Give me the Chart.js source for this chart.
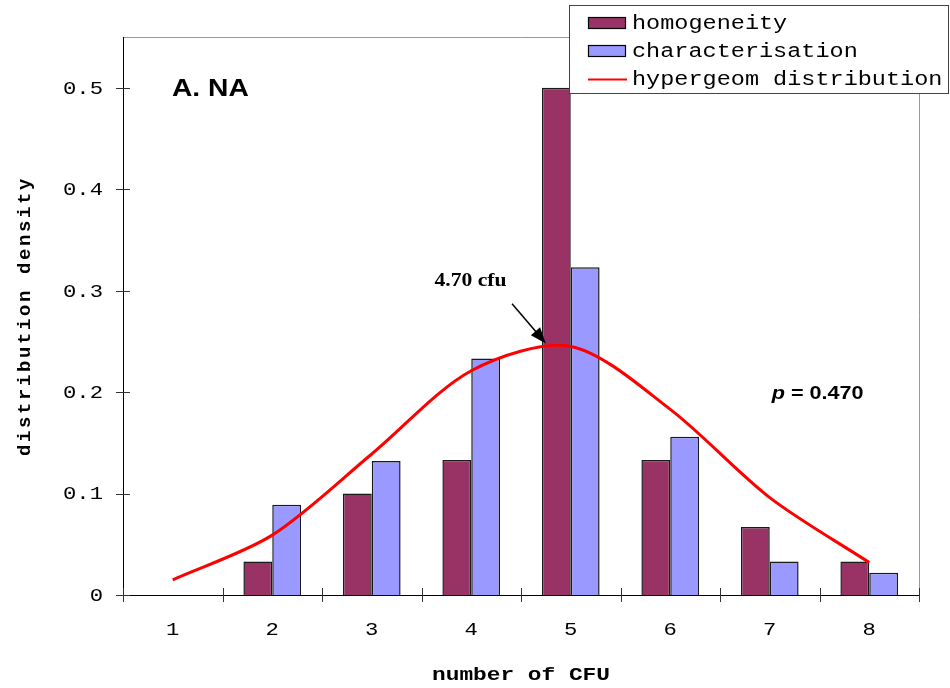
<!DOCTYPE html>
<html>
<head>
<meta charset="utf-8">
<script src="https://cdn.jsdelivr.net/npm/chart.js@4/dist/chart.umd.min.js"></script>
<style>
  html, body { margin: 0; padding: 0; background: #fff; }
  #wrap { width: 950px; height: 688px; }
</style>
</head>
<body>
<div id="wrap"><canvas id="myChart"></canvas></div>
<script>
var categories = ["1", "2", "3", "4", "5", "6", "7", "8"];
var homogeneity = [null, 0.033, 0.1, 0.133, 0.5, 0.133, 0.067, 0.033];
var characterisation = [null, 0.089, 0.132, 0.233, 0.323, 0.156, 0.033, 0.022];
var hypergeom = [0.015, 0.059, 0.139, 0.221, 0.245, 0.183, 0.096, 0.032];
var yTicks = [0, 0.1, 0.2, 0.3, 0.4, 0.5];

var MONO = "Liberation Mono, Courier New, monospace";
var SX = 1.2; // the original picture is stretched sideways

// draw text stretched horizontally like the source
function txt(ctx, s, x, y, font, align, base) {
  ctx.save();
  ctx.translate(x, y);
  ctx.scale(SX, 1);
  ctx.font = font;
  ctx.textAlign = align || "left";
  ctx.textBaseline = base || "alphabetic";
  ctx.fillStyle = "#000";
  ctx.fillText(s, 0, 0);
  ctx.restore();
}

var frame = {
  id: "frame",
  beforeDatasetsDraw: function(chart) {
    var ctx = chart.ctx, a = chart.chartArea;
    ctx.save();
    ctx.strokeStyle = "#999";
    ctx.lineWidth = 1;
    ctx.beginPath();
    ctx.moveTo(a.left, a.top + 0.5);
    ctx.lineTo(a.right + 0.5, a.top + 0.5);
    ctx.lineTo(a.right + 0.5, a.bottom);
    ctx.stroke();
    ctx.restore();
  },
  afterDraw: function(chart) {
    var ctx = chart.ctx, a = chart.chartArea;
    var x = chart.scales.x, y = chart.scales.y;
    ctx.save();
    // axes
    ctx.strokeStyle = "#000";
    ctx.lineWidth = 1;
    ctx.beginPath();
    ctx.moveTo(a.left + 0.5, a.top);
    ctx.lineTo(a.left + 0.5, a.bottom);
    ctx.moveTo(a.left, a.bottom + 0.5);
    ctx.lineTo(a.right + 1, a.bottom + 0.5);
    ctx.stroke();
    // ticks (they cross the axis)
    ctx.strokeStyle = "#333";
    ctx.beginPath();
    yTicks.forEach(function(v) {
      var py = Math.round(y.getPixelForValue(v)) + 0.5;
      ctx.moveTo(a.left - 7, py);
      ctx.lineTo(a.left + 7, py);
    });
    for (var i = 0; i <= categories.length; i++) {
      var px = Math.round(x.getPixelForValue(i - 0.5)) + 0.5;
      ctx.moveTo(px, a.bottom - 7);
      ctx.lineTo(px, a.bottom + 7);
    }
    ctx.stroke();
    ctx.restore();

    // tick labels
    yTicks.forEach(function(v) {
      txt(ctx, String(v), a.left - 20, y.getPixelForValue(v) + 1, "18.5px " + MONO, "right", "middle");
    });
    categories.forEach(function(c, i) {
      txt(ctx, c, x.getPixelForValue(i), a.bottom + 40, "18.5px " + MONO, "center");
    });

    // axis titles
    txt(ctx, "number of CFU", (a.left + a.right) / 2, 680, "bold 19px " + MONO, "center");
    ctx.save();
    ctx.translate(30, (a.top + a.bottom) / 2);
    ctx.rotate(-Math.PI / 2);
    ctx.font = "bold 19px " + MONO;
    ctx.letterSpacing = "2.6px";
    ctx.textAlign = "center";
    ctx.fillStyle = "#000";
    ctx.fillText("distribution density", 0, 0);
    ctx.restore();

    // annotations
    txt(ctx, "A. NA", a.left + 49, 96, "bold 23.5px Liberation Sans, Arial, sans-serif");
    txt(ctx, "4.70 cfu", x.getPixelForValue(2.63), y.getPixelForValue(0.305), "bold 18px Liberation Serif, Times New Roman, serif");
    ctx.save();
    ctx.translate(x.getPixelForValue(6.02), y.getPixelForValue(0.193));
    ctx.scale(SX, 1);
    ctx.fillStyle = "#000";
    ctx.textBaseline = "alphabetic";
    ctx.font = "italic bold 18px Liberation Sans, Arial, sans-serif";
    ctx.fillText("p", 0, 0);
    var w = ctx.measureText("p").width;
    ctx.font = "bold 18px Liberation Sans, Arial, sans-serif";
    ctx.fillText(" = 0.470", w, 0);
    ctx.restore();

    // arrow to the mean
    var x0 = x.getPixelForValue(3.41), y0 = y.getPixelForValue(0.287);
    var x1 = x.getPixelForValue(3.75), y1 = y.getPixelForValue(0.248);
    var ang = Math.atan2(y1 - y0, x1 - x0);
    ctx.save();
    ctx.strokeStyle = "#000";
    ctx.fillStyle = "#000";
    ctx.lineWidth = 1.5;
    ctx.beginPath();
    ctx.moveTo(x0, y0);
    ctx.lineTo(x1 - 10 * Math.cos(ang), y1 - 10 * Math.sin(ang));
    ctx.stroke();
    ctx.beginPath();
    ctx.moveTo(x1, y1);
    ctx.lineTo(x1 - 16 * Math.cos(ang) + 6 * Math.sin(ang), y1 - 16 * Math.sin(ang) - 6 * Math.cos(ang));
    ctx.lineTo(x1 - 16 * Math.cos(ang) - 6 * Math.sin(ang), y1 - 16 * Math.sin(ang) + 6 * Math.cos(ang));
    ctx.closePath();
    ctx.fill();
    ctx.restore();

    // legend box
    var ds = chart.data.datasets;
    ctx.save();
    ctx.fillStyle = "#fff";
    ctx.fillRect(569.5, 5.5, 379, 88);
    ctx.strokeStyle = "#444";
    ctx.lineWidth = 1;
    ctx.strokeRect(569.5, 5.5, 379, 88);
    var rows = [ds[1], ds[2], ds[0]];
    rows.forEach(function(d, i) {
      var cy = 23 + i * 28;
      if (d.type === "line") {
        ctx.strokeStyle = d.borderColor;
        ctx.lineWidth = 2;
        ctx.beginPath();
        ctx.moveTo(588, cy + 0.5);
        ctx.lineTo(627, cy + 0.5);
        ctx.stroke();
      } else {
        ctx.fillStyle = d.backgroundColor;
        ctx.fillRect(588, cy - 6, 38, 12);
        ctx.strokeStyle = "#000";
        ctx.lineWidth = 1.2;
        ctx.strokeRect(588.5, cy - 5.5, 37, 11);
      }
      txt(ctx, d.label, 632, cy + 6, "19.6px " + MONO);
    });
    ctx.restore();
  }
};

var ctx = document.getElementById("myChart").getContext("2d");
var myChart = new Chart(ctx, {
  type: "bar",
  data: {
    labels: categories,
    datasets: [
      {
        type: "line",
        label: "hypergeom distribution",
        data: hypergeom,
        borderColor: "#ff0000",
        borderWidth: 3,
        pointRadius: 0,
        tension: 0.3,
        fill: false
      },
      {
        label: "homogeneity",
        data: homogeneity,
        backgroundColor: "#993366",
        borderColor: "#1a1a1a",
        borderWidth: 1.5
      },
      {
        label: "characterisation",
        data: characterisation,
        backgroundColor: "#9999ff",
        borderColor: "#1a1a1a",
        borderWidth: 1.5
      }
    ]
  },
  options: {
    responsive: true,
    maintainAspectRatio: false,
    animation: false,
    layout: { padding: { left: 0, top: 37, right: 31, bottom: 0 } },
    datasets: { bar: { categoryPercentage: 0.58, barPercentage: 1.0 } },
    plugins: { legend: { display: false }, tooltip: { enabled: false } },
    scales: {
      x: {
        offset: true,
        grid: { display: false },
        border: { display: false },
        ticks: { display: false },
        afterFit: function(s) { s.height = 93; }
      },
      y: {
        min: 0,
        max: 0.55,
        grid: { display: false },
        border: { display: false },
        ticks: { display: false },
        afterBuildTicks: function(s) {
          s.ticks = yTicks.map(function(v) { return { value: v }; });
        },
        afterFit: function(s) { s.width = 123; }
      }
    }
  },
  plugins: [frame]
});
</script>
</body>
</html>
